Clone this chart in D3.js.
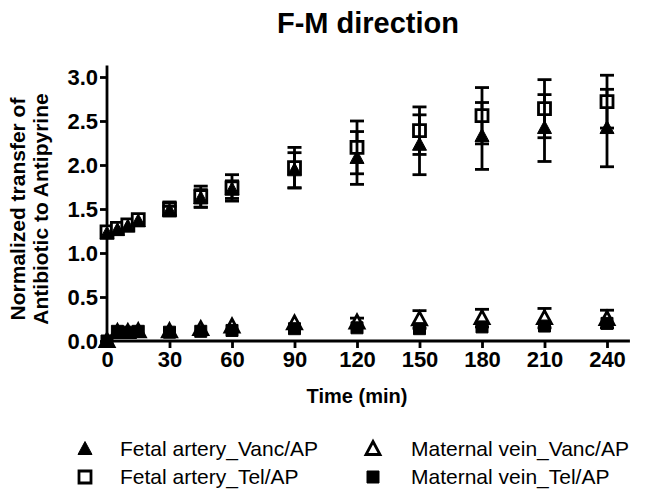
<!DOCTYPE html>
<html><head><meta charset="utf-8">
<script src="https://cdn.jsdelivr.net/npm/d3@7"></script>
<style>
html,body{margin:0;padding:0;background:#fff;}
svg{display:block;font-family:"Liberation Sans",Arial,sans-serif;}
</style></head>
<body>
<svg id="chart" width="645" height="501"></svg>
<script>
const time = [0,5,10,15,30,45,60,90,120,150,180,210,240];
const faVanc    = [1.22,1.26,1.30,1.36,1.48,1.62,1.72,1.94,2.08,2.23,2.33,2.42,2.42];
const faVancErr = [0.02,0.02,0.03,0.03,0.05,0.10,0.10,0.20,0.30,0.34,0.38,0.38,0.44];
const faTel     = [1.24,1.28,1.32,1.38,1.50,1.64,1.74,1.97,2.20,2.39,2.56,2.64,2.72];
const faTelErr  = [0.03,0.03,0.03,0.04,0.08,0.12,0.15,0.23,0.30,0.27,0.32,0.33,0.30];
const mvVanc    = [0.00,0.10,0.10,0.11,0.11,0.135,0.165,0.20,0.21,0.245,0.26,0.26,0.25];
const mvVancErr = [0.00,0.01,0.01,0.02,0.03,0.03,0.04,0.04,0.05,0.10,0.10,0.11,0.10];
const mvTel     = [0.00,0.11,0.10,0.11,0.10,0.11,0.12,0.14,0.15,0.14,0.16,0.17,0.20];
const mvTelErr  = [0.00,0.01,0.01,0.01,0.01,0.02,0.02,0.02,0.03,0.03,0.03,0.03,0.03];
const xTicks = [0,30,60,90,120,150,180,210,240];
const yTicks = [0,0.5,1.0,1.5,2.0,2.5,3.0];
const legendLabels = ["Fetal artery_Vanc/AP","Maternal vein_Vanc/AP","Fetal artery_Tel/AP","Maternal vein_Tel/AP"];

const svg = d3.select("#chart");
const x = d3.scaleLinear().domain([0,240]).range([107,607]);
const y = d3.scaleLinear().domain([0,3]).range([341,77]);
const SW = 2.8;

// axes
const xAxis = svg.append("g").attr("transform","translate(0,341)")
  .call(d3.axisBottom(x).tickValues(xTicks).tickSize(7).tickPadding(3));
xAxis.select(".domain").remove();
svg.append("line").attr("x1",x(0)-1.4).attr("x2",x(251)).attr("y1",341).attr("y2",341)
  .attr("stroke","#000").attr("stroke-width",SW);
const yAxis = svg.append("g").attr("transform","translate(107,0)")
  .call(d3.axisLeft(y).tickValues(yTicks).tickFormat(d3.format(".1f")).tickSize(7).tickPadding(2));
yAxis.select(".domain").remove();
svg.append("line").attr("x1",107).attr("x2",107).attr("y1",y(0)+1.4).attr("y2",y(3.13))
  .attr("stroke","#000").attr("stroke-width",SW);
svg.selectAll(".tick line").attr("stroke","#000").attr("stroke-width",SW);
svg.selectAll(".tick text").attr("fill","#000").attr("font-size","22px").attr("font-weight","bold")
  .attr("font-family","Liberation Sans, Arial, sans-serif");

// titles
svg.append("text").attr("x",368).attr("y",33).attr("text-anchor","middle")
  .attr("font-size","29px").attr("font-weight","bold").text("F-M direction");
svg.append("text").attr("x",357).attr("y",403).attr("text-anchor","middle")
  .attr("font-size","20px").attr("font-weight","bold").text("Time (min)");
const yl = svg.append("text").attr("transform","translate(0,"+y(1.5)+") rotate(-90)")
  .attr("text-anchor","middle").attr("font-size","21px").attr("font-weight","bold");
yl.append("tspan").attr("x",0).attr("y",25).text("Normalized transfer of");
yl.append("tspan").attr("x",0).attr("y",48).text("Antibiotic to Antipyrine");

// marker shapes
function markerPath(kind){
  if(kind==="tri") return "M0,-7.5L7,5.5L-7,5.5Z";
  return "M-6,-6H6V6H-6Z";
}
function drawSeries(vals, errs, kind, filled){
  const g = svg.append("g");
  const data = time.map((t,i)=>({t, v:vals[i], e:errs[i]}));
  g.selectAll("line.eb").data(data.filter(d=>d.e>0)).enter().append("line")
    .attr("class","eb")
    .attr("x1",d=>x(d.t)).attr("x2",d=>x(d.t)).attr("y1",d=>y(d.v+d.e)).attr("y2",d=>y(d.v-d.e))
    .attr("stroke","#000").attr("stroke-width",SW);
  [1,-1].forEach((s,k)=>{
    g.selectAll("line.cap"+k).data(data.filter(d=>d.e>0.045)).enter().append("line")
      .attr("class","cap"+k)
      .attr("x1",d=>x(d.t)-7).attr("x2",d=>x(d.t)+7)
      .attr("y1",d=>y(d.v+s*d.e)).attr("y2",d=>y(d.v+s*d.e))
      .attr("stroke","#000").attr("stroke-width",SW);
  });
  g.selectAll("path.mk").data(data).enter().append("path")
    .attr("class","mk")
    .attr("d",markerPath(kind))
    .attr("transform",d=>"translate("+x(d.t)+","+y(d.v)+")")
    .attr("fill",filled?"#000":"#fff").attr("stroke","#000").attr("stroke-width",filled?1:SW);
}
drawSeries(mvVanc, mvVancErr, "tri", false);
drawSeries(mvTel, mvTelErr, "sq", true);
drawSeries(faTel, faTelErr, "sq", false);
drawSeries(faVanc, faVancErr, "tri", true);

// legend
const leg = [
  {label:legendLabels[0], kind:"tri", filled:true, mx:85, tx:120, ty:449},
  {label:legendLabels[1], kind:"tri", filled:false, mx:373, tx:411, ty:449},
  {label:legendLabels[2], kind:"sq", filled:false, mx:85, tx:120, ty:477},
  {label:legendLabels[3], kind:"sq", filled:true, mx:373, tx:411, ty:477}
];
leg.forEach(l=>{
  svg.append("path").attr("d",markerPath(l.kind)).attr("transform","translate("+l.mx+","+l.ty+")")
    .attr("fill",l.filled?"#000":"#fff").attr("stroke","#000").attr("stroke-width",l.filled?1:SW);
  svg.append("text").attr("x",l.tx).attr("y",l.ty+7).attr("font-size","21px").text(l.label);
});
</script>
</body></html>
